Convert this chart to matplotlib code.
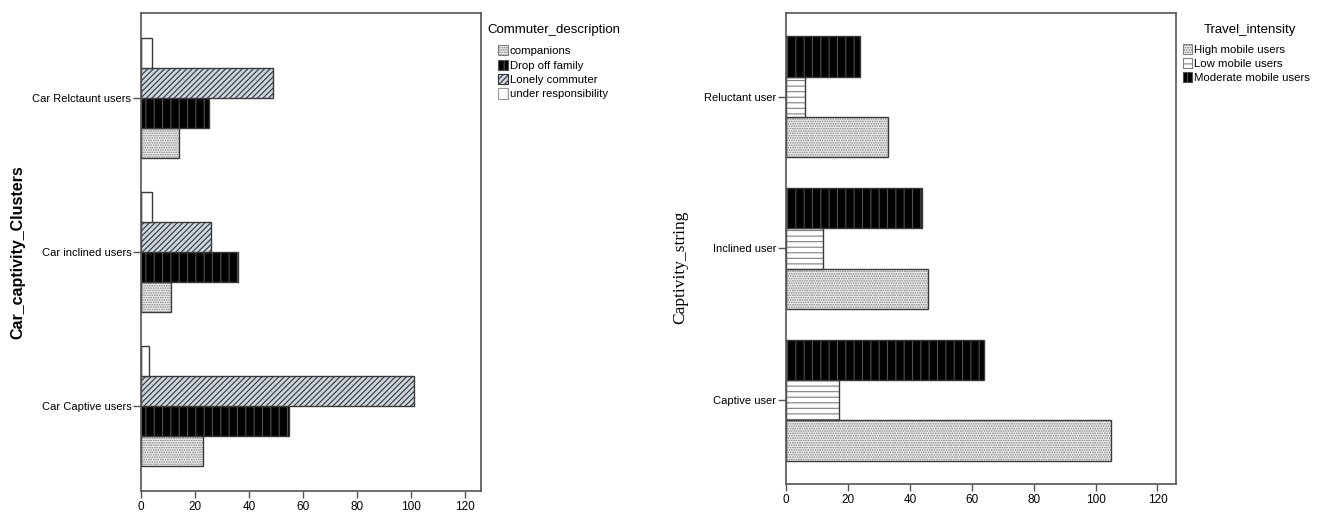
import numpy as np
import matplotlib
matplotlib.use('Agg')
import matplotlib.pyplot as plt
from matplotlib.patches import Patch

plt.rcParams['font.family'] = ['Liberation Sans', 'DejaVu Sans']
plt.rcParams['hatch.linewidth'] = 0.8

# left chart data (bottom to top)
left_categories = ['Car Captive users', 'Car inclined users', 'Car Relctaunt users']
companions = [23, 11, 14]
drop_off_family = [55, 36, 25]
lonely_commuter = [101, 26, 49]
under_responsibility = [3, 4, 4]

# right chart data (bottom to top)
right_categories = ['Captive user', 'Inclined user', 'Reluctant user']
high_mobile = [105, 46, 33]
low_mobile = [17, 12, 6]
moderate_mobile = [64, 44, 24]

EDGE = '#3a3a3a'
FRAME = '#555555'

STYLES = {
    'dots': dict(face='#eeeeee', hatch='.......', hcolor='#808080'),
    'black': dict(face='#000000', hatch='||', hcolor='#505050'),
    'diag': dict(face='#cdd5df', hatch='//////', hcolor='#333333'),
    'vdash': dict(face='#ffffff', hatch='|', hcolor='#9a9a9a'),
    'hlines': dict(face='#ffffff', hatch='---', hcolor='#808080'),
}


def hbar(ax, y, values, height, style):
    s = STYLES[style]
    ax.barh(y, values, height=height, color=s['face'], edgecolor=s['hcolor'],
            hatch=s['hatch'], linewidth=0)
    ax.barh(y, values, height=height, fill=False, edgecolor=EDGE, linewidth=1.0)


def legend_handle(style):
    s = STYLES[style]
    return Patch(facecolor=s['face'], edgecolor=s['hcolor'], hatch=s['hatch'], linewidth=0.8)


def style_axes(ax, categories):
    ax.set_xlim(0, 126)
    ax.set_xticks(range(0, 121, 20))
    ax.set_ylim(-0.55, 2.55)
    ax.set_yticks(range(len(categories)))
    ax.set_yticklabels(categories, fontsize=8)
    ax.tick_params(axis='x', labelsize=8.5, length=5, width=1, color=FRAME, pad=2)
    ax.tick_params(axis='y', length=6, width=1, color=FRAME, pad=1)
    for sp in ax.spines.values():
        sp.set_color(FRAME)
        sp.set_linewidth(1.2)


fig = plt.figure(figsize=(13.22, 5.14), dpi=100)

# left chart
ax1 = fig.add_axes([0.1067, 0.0447, 0.2572, 0.930])
y = np.arange(len(left_categories))
h = 0.195
hbar(ax1, y - 1.5 * h, companions, h, 'dots')
hbar(ax1, y - 0.5 * h, drop_off_family, h, 'black')
hbar(ax1, y + 0.5 * h, lonely_commuter, h, 'diag')
hbar(ax1, y + 1.5 * h, under_responsibility, h, 'vdash')
style_axes(ax1, left_categories)
ax1.set_ylabel('Car_captivity_Clusters', fontsize=11.5, fontweight='bold')
ax1.yaxis.set_label_coords(-0.34, 0.5)

fig.text(0.369, 0.9416, 'Commuter_description', fontsize=9.5, va='center', ha='left')
fig.legend([legend_handle(s) for s in ['dots', 'black', 'diag', 'vdash']],
           ['companions', 'Drop off family', 'Lonely commuter', 'under responsibility'],
           loc='upper left', bbox_to_anchor=(0.377, 0.912), frameon=False, fontsize=8.2,
           handlelength=0.85, handleheight=1.0, handletextpad=0.15,
           labelspacing=0.3, borderaxespad=0, borderpad=0)

# right chart
ax2 = fig.add_axes([0.5946, 0.0584, 0.295, 0.9163])
y = np.arange(len(right_categories))
h = 0.264
hbar(ax2, y - h, high_mobile, h, 'dots')
hbar(ax2, y, low_mobile, h, 'hlines')
hbar(ax2, y + h, moderate_mobile, h, 'black')
style_axes(ax2, right_categories)
ax2.set_ylabel('Captivity_string', fontsize=12.5,
               family=['Liberation Serif', 'DejaVu Serif'])
ax2.yaxis.set_label_coords(-0.25, 0.46)

fig.text(0.9455, 0.9416, 'Travel_intensity', fontsize=9.5, va='center', ha='center')
fig.legend([legend_handle(s) for s in ['dots', 'hlines', 'black']],
           ['High mobile users', 'Low mobile users', 'Moderate mobile users'],
           loc='upper left', bbox_to_anchor=(0.8945, 0.914), frameon=False, fontsize=8.2,
           handlelength=0.85, handleheight=1.0, handletextpad=0.15,
           labelspacing=0.25, borderaxespad=0, borderpad=0)

fig.savefig('out.png', dpi=100)
